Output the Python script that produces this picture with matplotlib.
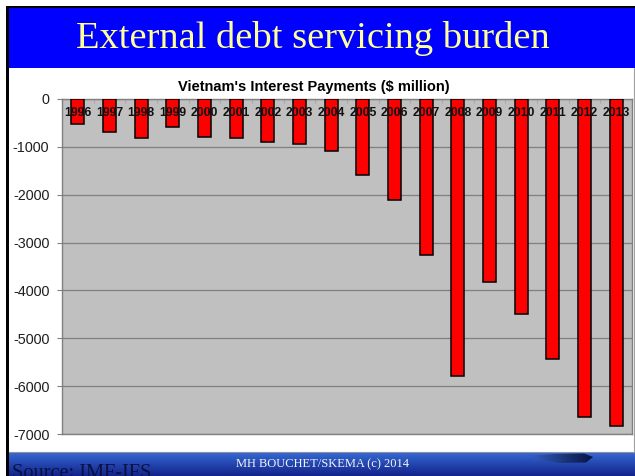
import matplotlib

matplotlib.use("Agg")

import matplotlib.pyplot as plt
import numpy as np
from matplotlib.patches import Polygon, Rectangle

# Vietnam's interest payments, $ million
years = ["1996", "1997", "1998", "1999", "2000", "2001", "2002", "2003", "2004",
         "2005", "2006", "2007", "2008", "2009", "2010", "2011", "2012", "2013"]
payments = [-525, -685, -810, -575, -785, -805, -895, -945, -1085,
            -1595, -2110, -3270, -5785, -3815, -4490, -5425, -6635, -6825]
y_ticks = [0, -1000, -2000, -3000, -4000, -5000, -6000, -7000]

slide_title = "External debt servicing burden"
chart_title = "Vietnam's Interest Payments ($ million)"
footer = "MH BOUCHET/SKEMA (c) 2014"
source = "Source: IMF-IFS"

W, H = 635, 476
SANS = "Liberation Sans"
SERIF = "Liberation Serif"

fig = plt.figure(figsize=(W / 100, H / 100), dpi=100)
fig.patch.set_facecolor("white")

# slide background drawn in pixel coordinates
bg = fig.add_axes([0, 0, 1, 1], zorder=0)
bg.set_xlim(0, W)
bg.set_ylim(H, 0)
bg.axis("off")

bg.add_patch(Rectangle((9, 8), W - 9, 60, facecolor="#0000FF", edgecolor="none"))
bg.add_patch(Rectangle((6, 5.5), W - 6, 2.8, facecolor="black", edgecolor="none"))
bg.add_patch(Rectangle((5.5, 5.5), 3.5, H - 5.5, facecolor="black", edgecolor="none"))
bg.plot([634, 634], [68, 452], color="#a0a0a0", linewidth=0.8)
bg.plot([9, W], [452, 452], color="#9090a0", linewidth=0.8)

# footer band with vertical gradient
grad = np.linspace(0, 1, 64).reshape(-1, 1)
top_col = np.array([0x36, 0x6a, 0xd4]) / 255
bot_col = np.array([0x12, 0x22, 0x8a]) / 255
band = top_col + (bot_col - top_col) * grad
bg.imshow(band[:, None, :].repeat(2, axis=1), extent=(9, W, H, 452.5),
          aspect="auto", zorder=1, interpolation="bilinear")

# swoosh decoration
swoosh = Polygon([(527, 456), (555, 454), (584, 453.5), (593, 457), (586, 462.5),
                  (560, 463), (538, 460)], closed=True, facecolor="none", edgecolor="none")
bg.add_patch(swoosh)
hgrad = np.linspace(0, 1, 64).reshape(1, -1)
c0 = np.array([0x35, 0x62, 0xc8]) / 255
c1 = np.array([0x08, 0x14, 0x40]) / 255
sw = c0 + (c1 - c0) * hgrad[..., None]
im = bg.imshow(sw, extent=(527, 593, 463.5, 453), aspect="auto", zorder=2,
               interpolation="bilinear")
im.set_clip_path(swoosh)
bg.set_xlim(0, W)
bg.set_ylim(H, 0)

fig.text(313 / W, 1 - 47.7 / H, slide_title, ha="center", va="baseline",
         fontsize=27.7, color="#FFFF99", family=SERIF)
fig.text(314 / W, 1 - 87 / H, chart_title, ha="center", va="center",
         fontsize=10.5, fontweight="bold", color="black", family=SANS)
fig.text(322 / W, 1 - 464 / H, footer, ha="center", va="center",
         fontsize=9, color="#f4f4f4", family=SERIF)
fig.text(12 / W, 1 - 478.5 / H, source, ha="left", va="baseline",
         fontsize=14.7, color="#0a1040", family=SERIF)

# chart
ax = fig.add_axes([62 / W, 1 - 434 / H, (632 - 62) / W, (434 - 99) / H], zorder=3)
ax.set_facecolor("#C0C0C0")
x = np.arange(len(years))
ax.bar(x, payments, width=0.42, color="#FF0000", edgecolor="black", linewidth=1.1, zorder=3)

ax.set_xlim(-0.5, len(years) - 0.5)
ax.set_ylim(-7000, 0)
ax.set_yticks(y_ticks)
ax.set_yticklabels([str(v) for v in y_ticks], family=SANS, fontsize=10.4, color="#202020")
ax.tick_params(axis="y", length=3.6, width=0.8, color="#808080", pad=5.5)
ax.grid(axis="y", color="#808080", linewidth=0.9, zorder=1)

ax.xaxis.tick_top()
ax.set_xticks(np.arange(len(years) + 1) - 0.5)
ax.set_xticklabels([])
ax.tick_params(axis="x", direction="in", length=3, width=0.8, color="#a8a8a8")

for i, year in enumerate(years):
    ax.annotate(year, (i, 0), xytext=(0, -5.5), textcoords="offset points",
                ha="center", va="top", fontsize=8.8, fontweight="bold",
                family=SANS, color="#111111", zorder=4)

for name in ["left", "bottom", "top", "right"]:
    ax.spines[name].set_color("#808080")
    ax.spines[name].set_linewidth(1.0)

fig.savefig("out.png", dpi=100)
